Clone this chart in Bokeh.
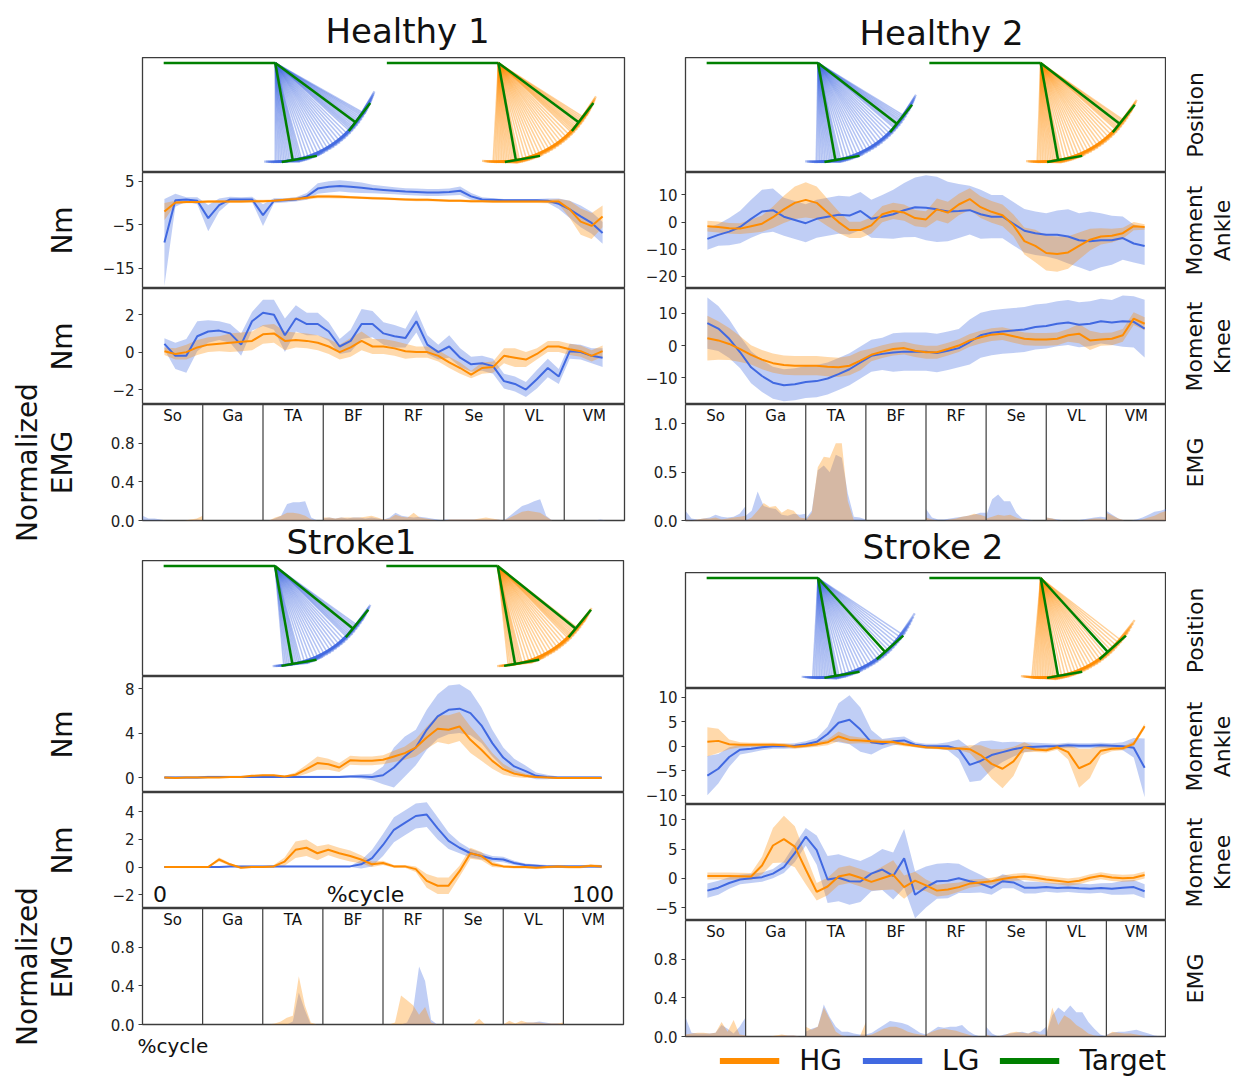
import math
from bokeh.plotting import figure
from bokeh.layouts import column, row
from bokeh.models import LinearAxis, FixedTicker, Legend, LegendItem, Range1d, Title
from bokeh.core.properties import value
from bokeh.embed import file_html
from bokeh.resources import INLINE

FONT = "DejaVu Sans"
HG_C = "#ff8c00"
LG_C = "#4169e1"
TG_C = "#008000"
EDGE = "#3c3c3c"
TXT = "#111111"

# ---------------- data ----------------
pct = [i * 2.5 for i in range(41)]          # %cycle grid of the moment curves
emg_pct = [i * 10 for i in range(11)]       # %cycle grid of the EMG envelopes
muscles = ["So", "Ga", "TA", "BF", "RF", "Se", "VL", "VM"]
groups = ["HG", "LG", "Target"]
panel_titles = ["Healthy 1", "Healthy 2", "Stroke1", "Stroke 2"]

# Healthy 1 ---------------------------------------------------------------
h1_ank_lg = [-9.1, 0.6, 0.8, 0.5, -3.5, -0.5, 0.8, 0.8, 0.8, -2.8,
             0.5, 0.6, 0.8, 1.5, 3.3, 3.7, 3.9, 3.7, 3.5, 3.2,
             3.0, 2.8, 2.6, 2.5, 2.4, 2.4, 2.5, 2.8, 1.5, 0.8,
             0.7, 0.6, 0.6, 0.6, 0.6, 0.5, -0.2, -1.5, -3.1, -4.6, -6.9]
h1_ank_lg_sd = [10, 1.5, 0.5, 0.8, 3.0, 1.5, 0.6, 0.5, 0.6, 2.5,
                0.6, 0.5, 0.5, 0.8, 1.2, 1.3, 1.3, 1.3, 1.2, 1.0,
                0.9, 0.8, 0.8, 0.8, 0.8, 0.8, 0.8, 1.0, 0.8, 0.5,
                0.4, 0.3, 0.3, 0.3, 0.3, 0.5, 1.2, 2.0, 2.5, 2.5, 2.5]
h1_ank_hg = [-2.0, 0.1, 0.2, 0.2, 0.3, 0.3, 0.3, 0.3, 0.4, 0.4,
             0.5, 0.7, 0.9, 1.2, 1.5, 1.5, 1.4, 1.3, 1.2, 1.1,
             1.0, 0.9, 0.8, 0.7, 0.7, 0.6, 0.5, 0.5, 0.4, 0.4,
             0.3, 0.3, 0.3, 0.3, 0.3, 0.3, 0.3, -1.5, -4.3, -5.3, -3.1]
h1_ank_hg_sd = [2.0, 0.4, 0.3, 0.3, 0.3, 0.3, 0.3, 0.3, 0.3, 0.3,
                0.3, 0.3, 0.4, 0.4, 0.4, 0.4, 0.4, 0.3, 0.3, 0.3,
                0.3, 0.3, 0.3, 0.3, 0.3, 0.3, 0.3, 0.3, 0.3, 0.3,
                0.3, 0.3, 0.3, 0.3, 0.3, 0.4, 0.6, 2.0, 3.0, 3.0, 2.5]
h1_knee_lg = [0.44, -0.2, -0.2, 0.85, 1.1, 1.15, 1.0, 0.4, 1.65, 2.1,
              2.0, 0.9, 1.8, 1.5, 1.5, 1.1, 0.3, 0.6, 1.5, 1.5,
              1.0, 0.85, 0.75, 1.65, 0.4, 0.0, 0.3, -0.3, -0.65, -0.6,
              -0.75, -1.55, -1.7, -2.0, -1.45, -0.85, -1.3, 0.05, 0.0, -0.2, -0.3]
h1_knee_lg_sd = [0.3, 0.7, 0.9, 0.8, 0.6, 0.5, 0.5, 0.6, 0.5, 0.7,
                 0.8, 0.9, 0.7, 0.6, 0.6, 0.5, 0.4, 0.6, 0.8, 0.7,
                 0.6, 0.6, 0.5, 0.6, 0.5, 0.4, 0.6, 0.5, 0.4, 0.4,
                 0.4, 0.4, 0.4, 0.4, 0.5, 0.5, 0.4, 0.4, 0.4, 0.4, 0.5]
h1_knee_hg = [0.05, -0.1, 0.0, 0.25, 0.4, 0.45, 0.5, 0.55, 0.6, 0.95,
              1.0, 0.6, 0.65, 0.6, 0.5, 0.3, 0.0, 0.25, 0.6, 0.3,
              0.3, 0.2, 0.05, 0.0, 0.0, -0.2, -0.55, -0.85, -1.2, -0.85,
              -0.8, -0.2, -0.3, -0.4, -0.1, 0.3, 0.3, 0.15, 0.05, -0.2, 0.05]
h1_knee_hg_sd = [0.2, 0.3, 0.4, 0.4, 0.4, 0.4, 0.5, 0.5, 0.5, 0.5,
                 0.5, 0.5, 0.4, 0.4, 0.4, 0.4, 0.4, 0.5, 0.5, 0.4,
                 0.4, 0.4, 0.4, 0.3, 0.3, 0.3, 0.3, 0.3, 0.2, 0.3,
                 0.3, 0.4, 0.5, 0.4, 0.3, 0.3, 0.3, 0.3, 0.3, 0.3, 0.3]

# Healthy 2 ---------------------------------------------------------------
h2_ank_lg = [-6.2, -4.7, -3.5, -1.8, 1.2, 3.9, 4.4, 2.0, 0.8, -0.4,
             1.2, 2.0, 2.7, 2.4, 4.1, 1.2, 2.0, 2.9, 4.4, 5.5,
             5.3, 4.7, 3.9, 4.1, 4.4, 2.9, 2.0, 2.0, -0.6, -3.2,
             -4.1, -4.7, -4.7, -5.3, -6.7, -7.1, -6.7, -6.7, -5.9, -7.9, -8.8]
h2_ank_lg_sd = [4, 4, 5, 6, 7, 8, 8, 7, 7, 7,
                7, 7, 7, 7, 7, 7, 8, 9, 10, 11,
                12, 12, 11, 10, 9, 9, 8, 8, 8, 8,
                8, 8, 9, 10, 10, 11, 10, 9, 8, 7, 7]
h2_ank_hg = [-1.5, -1.8, -2.3, -2.4, -1.5, -0.6, 1.8, 4.7, 7.1, 8.2,
             7.1, 3.5, 0.0, -2.9, -2.9, -1.2, 2.9, 4.1, 3.5, 1.5,
             1.0, 4.7, 3.5, 6.5, 8.5, 5.5, 3.8, 2.5, -1.2, -7.0,
             -8.8, -11.4, -11.8, -11.2, -8.8, -6.5, -5.3, -5.0, -4.1, -1.5, -1.8]
h2_ank_hg_sd = [2, 2, 2, 2, 2.5, 3, 4, 5, 6, 6.5,
                6, 5, 4, 3, 3, 3, 3, 3, 3, 3,
                3, 4, 4, 4, 4, 4, 4, 4, 4, 5,
                6, 6.5, 6.5, 6, 5, 4, 3, 2.5, 2, 1.5, 1]
h2_knee_lg = [7.0, 5.3, 2.1, -2.1, -6.8, -9.5, -11.6, -12.4, -12.1, -11.4,
              -11.1, -10.3, -8.9, -7.4, -5.3, -3.2, -2.6, -2.2, -1.9, -1.9,
              -1.9, -2.3, -1.6, -0.8, 1.1, 3.2, 4.0, 4.4, 4.7, 5.0,
              5.8, 6.1, 6.8, 7.2, 6.5, 6.8, 7.6, 7.2, 7.6, 7.4, 5.3]
h2_knee_lg_sd = [8, 7, 6, 5, 5, 5, 5, 5, 5, 5,
                 5, 5, 5, 5, 5, 5, 5, 6, 6, 6,
                 6, 6, 6, 6, 7, 7, 7, 7, 7, 7,
                 7, 7, 7, 7, 7, 7, 7, 7, 8, 8, 9]
h2_knee_hg = [2.3, 1.6, 0.5, -1.1, -2.9, -4.4, -5.5, -6.1, -6.3, -6.3,
              -6.3, -6.6, -6.8, -6.3, -4.7, -2.9, -1.9, -1.1, -0.8, -1.6,
              -2.1, -2.1, -1.1, 0.0, 1.6, 2.6, 3.4, 3.7, 2.9, 2.1,
              1.9, 1.9, 2.1, 3.2, 3.7, 1.6, 1.9, 2.1, 3.2, 8.4, 6.8]
h2_knee_hg_sd = [7, 6, 5, 4, 3, 3, 3, 3, 3, 3,
                 3, 3, 3, 3, 3, 2, 2, 2, 2, 2,
                 2, 2, 2, 2, 2, 2, 2, 2, 2, 2,
                 2, 2, 2, 2, 3, 3, 2, 2, 2, 2, 2]

# Stroke 1 ----------------------------------------------------------------
s1_ank_lg = [0.0, 0.0, 0.0, 0.0, 0.05, 0.05, 0.05, 0.05, 0.05, 0.05,
             0.05, 0.05, 0.05, 0.05, 0.05, 0.05, 0.05, 0.1, 0.1, 0.05,
             0.2, 0.9, 1.9, 2.7, 4.3, 5.5, 6.1, 6.2, 5.8, 4.7,
             3.1, 1.8, 1.0, 0.6, 0.15, 0.05, 0.0, 0.0, 0.0, 0.0, 0.0]
s1_ank_lg_sd = [0.1, 0.1, 0.1, 0.1, 0.1, 0.1, 0.1, 0.1, 0.1, 0.1,
                0.1, 0.1, 0.1, 0.1, 0.1, 0.1, 0.1, 0.1, 0.2, 0.3,
                0.8, 1.8, 1.8, 1.6, 1.8, 2.0, 2.2, 2.2, 2.0, 1.6,
                1.2, 0.9, 0.7, 0.5, 0.3, 0.2, 0.1, 0.1, 0.1, 0.1, 0.1]
s1_ank_hg = [0.0, -0.05, 0.0, 0.0, 0.0, 0.0, 0.05, 0.05, 0.15, 0.2,
             0.2, 0.1, 0.25, 0.75, 1.3, 1.2, 0.9, 1.55, 1.5, 1.5,
             1.6, 1.9, 2.2, 2.7, 3.6, 4.4, 4.3, 4.6, 3.4, 2.5,
             1.5, 0.75, 0.35, 0.15, 0.05, 0.0, -0.05, -0.05, -0.05, -0.05, -0.05]
s1_ank_hg_sd = [0.05, 0.05, 0.05, 0.05, 0.05, 0.05, 0.05, 0.05, 0.05, 0.05,
                0.05, 0.05, 0.2, 0.4, 0.6, 0.5, 0.4, 0.4, 0.4, 0.4,
                0.4, 0.5, 0.6, 0.8, 1.0, 1.2, 1.3, 1.3, 1.2, 1.0,
                0.7, 0.5, 0.3, 0.2, 0.1, 0.05, 0.05, 0.05, 0.05, 0.05, 0.05]
s1_knee_lg = [0.0, 0.0, 0.0, 0.0, 0.0, 0.0, 0.05, 0.05, 0.05, 0.05,
              0.05, 0.05, 0.05, 0.05, 0.05, 0.05, 0.05, 0.05, 0.2, 0.65,
              1.6, 2.7, 3.2, 3.7, 3.8, 2.8, 1.9, 1.4, 1.0, 0.8,
              0.6, 0.55, 0.3, 0.15, 0.1, 0.05, 0.05, 0.05, 0.05, 0.05, 0.05]
s1_knee_lg_sd = [0.05, 0.05, 0.05, 0.05, 0.05, 0.05, 0.05, 0.05, 0.05, 0.05,
                 0.05, 0.05, 0.05, 0.05, 0.05, 0.05, 0.05, 0.05, 0.3, 0.6,
                 0.8, 0.9, 0.9, 0.9, 0.9, 0.8, 0.6, 0.4, 0.3, 0.25,
                 0.2, 0.2, 0.15, 0.1, 0.1, 0.1, 0.1, 0.1, 0.1, 0.1, 0.1]
s1_knee_hg = [0.0, 0.0, 0.0, 0.0, 0.0, 0.55, 0.2, -0.05, 0.0, 0.0,
              0.05, 0.4, 1.25, 1.4, 1.0, 1.25, 1.0, 0.8, 0.55, 0.2,
              0.3, 0.05, 0.05, -0.15, -1.0, -1.35, -1.35, -0.3, 1.0, 0.8,
              0.2, 0.05, 0.0, 0.0, -0.05, 0.0, 0.05, 0.0, 0.0, 0.1, 0.05]
s1_knee_hg_sd = [0.05, 0.05, 0.05, 0.05, 0.05, 0.15, 0.1, 0.05, 0.05, 0.05,
                 0.1, 0.3, 0.6, 0.6, 0.5, 0.4, 0.4, 0.4, 0.3, 0.2,
                 0.15, 0.1, 0.1, 0.2, 0.5, 0.6, 0.6, 0.4, 0.4, 0.3,
                 0.2, 0.1, 0.1, 0.1, 0.1, 0.1, 0.1, 0.1, 0.1, 0.1, 0.1]

# Stroke 2 ----------------------------------------------------------------
s2_ank_lg = [-6.0, -4.6, -2.2, -0.7, -0.5, -0.2, 0.0, 0.0, 0.1, 0.4,
             0.9, 2.5, 4.8, 5.4, 3.4, 0.8, 0.5, 1.0, 1.2, 0.3,
             0.0, 0.0, 0.0, -0.6, -3.8, -3.0, -1.8, -1.2, -0.6, -0.2,
             -0.1, 0.0, 0.0, 0.2, 0.1, 0.1, 0.2, 0.1, 0.0, -0.3, -4.4]
s2_ank_lg_sd = [4, 3, 2, 1, 0.8, 0.6, 0.5, 0.5, 0.5, 0.6,
                0.8, 1.5, 4, 5, 4.5, 2.5, 1, 0.8, 0.8, 0.5,
                0.5, 0.5, 0.8, 2, 3.5, 4, 3, 2, 1.5, 1,
                0.8, 0.6, 0.5, 0.5, 0.5, 0.5, 0.5, 0.5, 0.8, 2, 6]
s2_ank_hg = [0.9, 1.1, 0.4, 0.3, 0.3, 0.3, 0.3, 0.2, -0.1, 0.1,
             0.4, 0.8, 2.0, 1.3, 1.2, 1.0, 0.85, 0.85, 0.4, 0.1,
             -0.2, -0.3, -0.45, -0.45, -0.6, -1.8, -3.6, -4.6, -3.1, -0.2,
             -0.65, -0.8, -0.2, -1.2, -4.5, -3.5, -0.9, -0.5, -0.4, 0.5, 4.1]
s2_ank_hg_sd = [3, 2.5, 1, 0.5, 0.4, 0.4, 0.4, 0.4, 0.4, 0.4,
                0.5, 0.6, 1.0, 0.8, 0.6, 0.5, 0.5, 0.5, 0.4, 0.3,
                0.3, 0.3, 0.3, 0.3, 0.8, 2, 3, 4, 3, 1,
                0.5, 0.5, 0.5, 1.5, 4, 3, 1, 0.5, 0.4, 0.5, 0.5]
s2_knee_lg = [-2.1, -1.6, -0.8, -0.2, 0.0, 0.2, 0.8, 1.9, 4.3, 7.1,
              4.8, -0.2, 0.1, -0.5, -0.55, 0.8, 1.5, 0.4, 3.4, -2.8,
              -1.5, -0.5, -0.4, 0.0, -0.5, -0.9, -1.6, -0.5, -0.7, -1.6,
              -1.6, -1.5, -1.65, -1.55, -1.7, -1.8, -1.65, -1.8, -1.6, -1.5, -2.2]
s2_knee_lg_sd = [1.2, 1.2, 1.0, 0.8, 0.8, 0.8, 0.8, 1.0, 1.5, 1.5,
                 2.5, 4, 4, 4, 3.5, 3, 3.5, 4, 5, 4,
                 3.5, 3, 3, 2.5, 2, 1.5, 1.2, 1.2, 1.0, 1.0,
                 1.0, 0.8, 0.8, 0.8, 0.8, 0.8, 0.8, 1.0, 1.2, 1.2, 1.2]
s2_knee_hg = [0.4, 0.4, 0.4, 0.35, 0.3, 2.2, 5.6, 6.7, 5.4, 1.5,
              -2.3, -1.4, 0.3, 0.7, 0.1, -0.6, 0.0, 0.6, -1.5, -0.4,
              -1.2, -2.1, -1.9, -1.5, -0.9, -0.7, -0.5, -0.1, 0.2, 0.3,
              0.1, -0.2, -0.4, -0.65, -0.4, 0.1, 0.45, 0.15, 0.0, 0.1, 0.55]
s2_knee_hg_sd = [0.6, 0.6, 0.6, 0.6, 0.6, 1.5, 3, 4, 3.5, 2.5,
                 1.5, 1.5, 1.5, 1.5, 1.5, 1.5, 2, 2.5, 2, 1.5,
                 1, 1, 1, 0.8, 0.7, 0.6, 0.6, 0.6, 0.6, 0.6,
                 0.6, 0.6, 0.6, 0.6, 0.6, 0.6, 0.6, 0.6, 0.6, 0.6, 0.6]

# EMG envelopes (one list per muscle, order = muscles) ---------------------
emg_h1_lg = [[0.05, 0.02, 0.02, 0.01, 0.0, 0.0, 0.0, 0.0, 0.0, 0.01, 0.0],
             [0.0, 0.0, 0.0, 0.0, 0.0, 0.0, 0.0, 0.0, 0.0, 0.0, 0.0],
             [0.0, 0.0, 0.02, 0.05, 0.17, 0.19, 0.19, 0.2, 0.03, 0.0, 0.0],
             [0.02, 0.03, 0.02, 0.03, 0.02, 0.03, 0.03, 0.02, 0.03, 0.02, 0.01],
             [0.01, 0.03, 0.08, 0.05, 0.04, 0.03, 0.04, 0.03, 0.02, 0.01, 0.0],
             [0.01, 0.01, 0.01, 0.01, 0.01, 0.01, 0.01, 0.01, 0.01, 0.01, 0.0],
             [0.0, 0.05, 0.1, 0.15, 0.17, 0.2, 0.22, 0.05, 0.0, 0.0, 0.0],
             [0.0, 0.0, 0.0, 0.0, 0.0, 0.0, 0.01, 0.0, 0.0, 0.0, 0.0]]
emg_h1_hg = [[0.0, 0.0, 0.0, 0.0, 0.0, 0.0, 0.0, 0.0, 0.01, 0.02, 0.05],
             [0.0, 0.0, 0.0, 0.0, 0.0, 0.0, 0.0, 0.0, 0.0, 0.0, 0.0],
             [0.0, 0.0, 0.03, 0.05, 0.08, 0.08, 0.07, 0.05, 0.01, 0.0, 0.0],
             [0.03, 0.03, 0.02, 0.03, 0.03, 0.03, 0.03, 0.04, 0.05, 0.03, 0.01],
             [0.01, 0.02, 0.06, 0.04, 0.03, 0.08, 0.03, 0.02, 0.01, 0.0, 0.0],
             [0.0, 0.01, 0.01, 0.01, 0.01, 0.01, 0.02, 0.03, 0.02, 0.01, 0.0],
             [0.0, 0.03, 0.06, 0.09, 0.1, 0.09, 0.08, 0.04, 0.0, 0.0, 0.0],
             [0.0, 0.0, 0.0, 0.0, 0.0, 0.0, 0.0, 0.0, 0.0, 0.0, 0.0]]
emg_h2_lg = [[0.1, 0.02, 0.01, 0.02, 0.03, 0.06, 0.04, 0.03, 0.04, 0.07, 0.15],
             [0.05, 0.1, 0.3, 0.15, 0.13, 0.12, 0.06, 0.05, 0.07, 0.06, 0.07],
             [0.02, 0.1, 0.52, 0.57, 0.5, 0.68, 0.65, 0.28, 0.04, 0.03, 0.01],
             [0.0, 0.0, 0.0, 0.0, 0.0, 0.0, 0.0, 0.0, 0.0, 0.0, 0.0],
             [0.12, 0.03, 0.01, 0.01, 0.02, 0.03, 0.04, 0.05, 0.06, 0.08, 0.08],
             [0.05, 0.22, 0.27, 0.2, 0.2, 0.08, 0.02, 0.01, 0.0, 0.0, 0.0],
             [0.03, 0.02, 0.01, 0.0, 0.0, 0.0, 0.01, 0.02, 0.03, 0.04, 0.03],
             [0.1, 0.06, 0.02, 0.0, 0.0, 0.01, 0.03, 0.06, 0.09, 0.1, 0.12]]
emg_h2_hg = [[0.01, 0.0, 0.01, 0.02, 0.02, 0.03, 0.01, 0.02, 0.03, 0.04, 0.05],
             [0.0, 0.03, 0.1, 0.18, 0.14, 0.15, 0.08, 0.12, 0.1, 0.03, 0.02],
             [0.0, 0.08, 0.55, 0.66, 0.65, 0.8, 0.8, 0.2, 0.0, 0.0, 0.0],
             [0.0, 0.0, 0.0, 0.0, 0.0, 0.0, 0.0, 0.0, 0.0, 0.0, 0.0],
             [0.03, 0.01, 0.0, 0.0, 0.01, 0.02, 0.04, 0.05, 0.07, 0.06, 0.04],
             [0.02, 0.04, 0.06, 0.05, 0.06, 0.03, 0.01, 0.0, 0.0, 0.0, 0.0],
             [0.03, 0.02, 0.0, 0.0, 0.0, 0.0, 0.0, 0.01, 0.02, 0.02, 0.01],
             [0.08, 0.05, 0.02, 0.0, 0.0, 0.0, 0.01, 0.03, 0.05, 0.08, 0.1]]
emg_s1_lg = [[0.0] * 11,
             [0.0] * 11,
             [0.0, 0.0, 0.0, 0.0, 0.0, 0.03, 0.33, 0.15, 0.0, 0.0, 0.0],
             [0.0] * 11,
             [0.0, 0.0, 0.0, 0.0, 0.02, 0.15, 0.6, 0.45, 0.05, 0.0, 0.0],
             [0.0] * 11,
             [0.0, 0.01, 0.0, 0.01, 0.02, 0.02, 0.03, 0.02, 0.01, 0.01, 0.0],
             [0.0] * 11]
emg_s1_hg = [[0.0] * 11,
             [0.0] * 11,
             [0.0, 0.0, 0.01, 0.03, 0.07, 0.09, 0.5, 0.2, 0.02, 0.0, 0.0],
             [0.0] * 11,
             [0.0, 0.0, 0.02, 0.3, 0.25, 0.2, 0.1, 0.18, 0.02, 0.0, 0.0],
             [0.0, 0.0, 0.0, 0.0, 0.0, 0.0, 0.06, 0.0, 0.0, 0.0, 0.0],
             [0.0, 0.04, 0.01, 0.04, 0.02, 0.02, 0.02, 0.01, 0.01, 0.01, 0.02],
             [0.0] * 11]
emg_s2_lg = [[0.2, 0.04, 0.03, 0.03, 0.03, 0.04, 0.12, 0.08, 0.03, 0.1, 0.2],
             [0.0, 0.0, 0.0, 0.0, 0.0, 0.0, 0.01, 0.01, 0.01, 0.0, 0.0],
             [0.05, 0.08, 0.1, 0.33, 0.2, 0.1, 0.05, 0.05, 0.03, 0.02, 0.02],
             [0.02, 0.04, 0.08, 0.12, 0.16, 0.15, 0.14, 0.12, 0.08, 0.04, 0.02],
             [0.02, 0.06, 0.1, 0.09, 0.1, 0.1, 0.12, 0.06, 0.02, 0.0, 0.0],
             [0.1, 0.03, 0.0, 0.02, 0.03, 0.04, 0.05, 0.03, 0.06, 0.05, 0.1],
             [0.02, 0.22, 0.3, 0.25, 0.32, 0.25, 0.25, 0.15, 0.08, 0.02, 0.0],
             [0.02, 0.04, 0.05, 0.05, 0.06, 0.07, 0.05, 0.03, 0.01, 0.0, 0.0]]
emg_s2_hg = [[0.02, 0.03, 0.04, 0.04, 0.03, 0.04, 0.15, 0.05, 0.17, 0.02, 0.01],
             [0.0, 0.0, 0.0, 0.0, 0.0, 0.01, 0.02, 0.01, 0.01, 0.0, 0.0],
             [0.1, 0.07, 0.1, 0.3, 0.18, 0.05, 0.01, 0.0, 0.0, 0.0, 0.15],
             [0.01, 0.02, 0.05, 0.08, 0.1, 0.1, 0.08, 0.05, 0.03, 0.02, 0.01],
             [0.02, 0.05, 0.07, 0.08, 0.07, 0.06, 0.04, 0.02, 0.0, 0.0, 0.0],
             [0.02, 0.0, 0.0, 0.01, 0.04, 0.05, 0.04, 0.03, 0.05, 0.02, 0.02],
             [0.02, 0.3, 0.12, 0.22, 0.18, 0.12, 0.08, 0.03, 0.01, 0.0, 0.0],
             [0.01, 0.05, 0.04, 0.03, 0.03, 0.02, 0.01, 0.0, 0.0, 0.0, 0.0]]

# Shank angles (deg from vertical) of the recorded positions, and targets --
pos_h1_lg = [0, 1, 2, 3, 4, 5, 6, 7, 8, 9, 10, 11, 12, 13, 14, 15, 17, 19, 21, 23, 25, 27, 29,
             31, 33, 35, 37, 39, 41, 43, 45, 47, 48, 49, 50, 51, 52, 53, 54, 55, 56, 57, 58, 59, 60]
pos_h1_hg = [-3, -2, -1, 0, 1, 2, 3, 4, 5, 6, 7, 8, 9, 10, 11, 12, 14, 16, 18, 20, 22, 24, 26,
             28, 30, 32, 34, 36, 38, 40, 42, 44, 46, 47, 48, 49, 50, 51, 52, 53, 54, 55, 56, 57]
pos_h2_lg = [-1, 0, 1, 2, 3, 4, 5, 6, 7, 8, 9, 10, 11, 12, 13, 15, 17, 19, 21, 23, 25, 27, 29,
             31, 33, 35, 37, 39, 41, 43, 45, 47, 49, 50, 51, 52, 53, 54, 55, 56, 57, 58]
pos_h2_hg = [-2, -1, 0, 1, 2, 3, 4, 5, 6, 7, 8, 9, 10, 11, 12, 14, 16, 18, 20, 22, 24, 26, 28,
             30, 32, 34, 36, 38, 40, 42, 44, 46, 48, 49, 50, 51, 52, 53, 54, 55]
pos_s1_lg = [5, 6, 7, 8, 9, 10, 11, 12, 13, 14, 15, 17, 19, 21, 23, 25, 27, 29, 31, 33, 35, 37,
             39, 41, 43, 45, 46, 47, 48, 49, 50, 51, 52, 53, 54]
pos_s1_hg = [6, 7, 8, 9, 10, 11, 12, 13, 14, 16, 18, 20, 22, 24, 26, 28, 30, 32, 34, 36, 38, 40,
             42, 44, 45, 46, 47, 48, 49, 50, 51, 52]
pos_s2_lg = [-3, -2, -1, 0, 1, 2, 3, 4, 5, 6, 7, 8, 9, 10, 11, 12, 14, 16, 18, 20, 22, 24, 26,
             28, 30, 32, 34, 36, 38, 40, 42, 44, 46, 48, 50, 52, 54, 56]
pos_s2_hg = [-5, -4, -3, -2, -1, 0, 1, 2, 3, 4, 5, 6, 7, 8, 9, 10, 12, 14, 16, 18, 20, 22, 24,
             26, 28, 30, 32, 34, 36, 38, 40, 42, 44, 46, 48, 50, 52]
target_h1 = [10, 53]
target_h2 = [10, 52]
target_s1 = [10, 51]
target_s2 = [10, 42]

# leg model (thigh = 1 unit)
THIGH, SHANK, HEEL, TOE, HG_SHIFT = 1.0, 0.9, 0.1, 0.22, 2.0


# ---------------- helpers ----------------
def new_fig(fw, fh, xr, yr, ml, mr, mt, mb):
    p = figure(frame_width=fw, frame_height=fh, x_range=xr, y_range=yr,
               min_border_left=ml, min_border_right=mr, min_border_top=mt, min_border_bottom=mb,
               toolbar_location=None, output_backend="svg",
               x_axis_location=None, y_axis_location=None, title=None)
    p.grid.visible = False
    p.outline_line_color = EDGE
    p.outline_line_width = 1.3
    p.background_fill_color = "white"
    p.border_fill_color = "white"
    try:
        p.align = "start"
    except Exception:
        pass
    return p


def fmt(t, dec):
    s = f"{t:.1f}" if dec else f"{int(t)}"
    return s.replace("-", "\u2212")


def label_axis(p, side, text, standoff, size):
    ax = LinearAxis(ticker=FixedTicker(ticks=[]), axis_label=text)
    ax.major_tick_out = 0
    ax.major_tick_in = 0
    ax.minor_tick_out = 0
    ax.major_label_standoff = 0
    ax.major_tick_line_color = None
    ax.minor_tick_line_color = None
    ax.axis_line_color = None
    ax.axis_label_text_font = FONT
    ax.axis_label_text_font_size = size
    ax.axis_label_text_font_style = "normal"
    ax.axis_label_text_color = TXT
    ax.axis_label_standoff = standoff
    p.add_layout(ax, side)


def left_axis(p, ticks, dec=False):
    overrides = {}
    for t in ticks:
        overrides[t] = fmt(t, dec)
        overrides[str(t)] = fmt(t, dec)
    ax = LinearAxis(ticker=FixedTicker(ticks=ticks), major_label_overrides=overrides)
    ax.major_label_text_font = FONT
    ax.major_label_text_font_size = "15px"
    ax.major_label_text_color = "#222222"
    ax.major_label_standoff = 4
    ax.major_tick_out = 4
    ax.major_tick_in = 0
    ax.major_tick_line_color = EDGE
    ax.minor_tick_line_color = None
    ax.axis_line_color = None
    p.add_layout(ax, "left")


def side_label_fig(lines, standoffs, fh):
    # narrow strip right of a panel; its left axes carry the row label(s)
    p = new_fig(1, fh, Range1d(0, 1), Range1d(0, 1), 68, 0, 0, 0)
    p.outline_line_color = None
    for text, so in zip(lines, standoffs):
        label_axis(p, "left", text, so, "22px")
    return p


def title_fig(text, fw, h, ml, mr, cx, cy):
    p = new_fig(fw, h, Range1d(0, fw), Range1d(0, h), ml, mr, 0, 0)
    p.outline_line_color = None
    p.text(x=[cx], y=[cy], text=[text], text_font=value(FONT), text_font_size="34px",
           text_align="center", text_baseline="middle", text_color=TXT)
    return p


def title_below(p, text, offset, standoff):
    t = Title(text=text, align="left", offset=offset, standoff=0,
              text_font=FONT, text_font_size="34px", text_font_style="normal", text_color=TXT)
    try:
        t.standoff = standoff
    except Exception:
        t.standoff = max(standoff, 0)
    p.add_layout(t, "below")


def leg_lines(hip_x, angles):
    kx = hip_x + THIGH
    sx, sy, fx, fy = [], [], [], []
    for a in angles:
        r = math.radians(a)
        axx, ayy = kx + SHANK * math.sin(r), -SHANK * math.cos(r)
        sx.append([kx, axx]); sy.append([0.0, ayy])
        fx.append([axx - HEEL * math.cos(r), axx + TOE * math.cos(r)])
        fy.append([ayy - HEEL * math.sin(r), ayy + TOE * math.sin(r)])
    return sx, sy, fx, fy


def pos_fig(lg, hg, targets, fw, fh, ml, mr):
    p = new_fig(fw, fh, Range1d(-0.19, 4.13), Range1d(-1.0, 0.05), ml, mr, 0, 0)
    for hip, angs, col in ((0.0, lg, LG_C), (HG_SHIFT, hg, HG_C)):
        sx, sy, fx, fy = leg_lines(hip, angs)
        p.multi_line(sx, sy, line_color=col, line_alpha=0.4, line_width=1.5)
        p.multi_line(fx, fy, line_color=col, line_alpha=0.4, line_width=2.2)
    for hip in (0.0, HG_SHIFT):
        p.line([hip, hip + THIGH], [0.0, 0.0], line_color=TG_C, line_width=2.5)
        sx, sy, fx, fy = leg_lines(hip, targets)
        p.multi_line(sx, sy, line_color=TG_C, line_width=2.5)
        p.multi_line(fx, fy, line_color=TG_C, line_width=2.5)
    return p


def moment_fig(yr, fw, ml, mr, lg, lg_sd, hg, hg_sd):
    p = new_fig(fw, 116, Range1d(-5, 105), Range1d(*yr), ml, mr, 0, 0)
    for m, s, c in ((lg, lg_sd, LG_C), (hg, hg_sd, HG_C)):
        p.varea(x=pct, y1=[a - b for a, b in zip(m, s)], y2=[a + b for a, b in zip(m, s)],
                fill_color=c, fill_alpha=0.33)
    for m, c in ((lg, LG_C), (hg, HG_C)):
        p.line(pct, m, line_color=c, line_width=2)
    return p


def emg_fig(fw, ml, mr, mb, lg, hg):
    n = len(muscles)
    p = new_fig(fw, 116, Range1d(0, 100 * n), Range1d(0, 1.2), ml, mr, 0, mb)
    for i in range(n):
        xs = [i * 100 + v for v in emg_pct]
        p.varea(x=xs, y1=[0.0] * len(xs), y2=lg[i], fill_color=LG_C, fill_alpha=0.33)
        p.varea(x=xs, y1=[0.0] * len(xs), y2=hg[i], fill_color=HG_C, fill_alpha=0.33)
    bounds = [100 * i for i in range(1, n)]
    p.segment(x0=bounds, y0=[0] * len(bounds), x1=bounds, y1=[1.2] * len(bounds),
              line_color=EDGE, line_width=1.2)
    p.text(x=[100 * i + 50 for i in range(n)], y=[1.085] * n, text=muscles,
           text_font=value(FONT), text_font_size="15px", text_align="center",
           text_baseline="middle", text_color=TXT)
    return p


# ---------------- left column (Healthy 1 / Stroke1) ----------------
STRIP = 80
LW, LML, LMR = 482, 62, 16
h1_title = title_fig(panel_titles[0], LW, 57, LML, LMR, 265, 26.5)
h1_pos = pos_fig(pos_h1_lg, pos_h1_hg, target_h1, LW, 115, LML, LMR)
h1_ank = moment_fig((-19.7, 7.0), LW, LML, LMR, h1_ank_lg, h1_ank_lg_sd, h1_ank_hg, h1_ank_hg_sd)
left_axis(h1_ank, [-15, -5, 5])
h1_knee = moment_fig((-2.8, 3.4), LW, LML, LMR, h1_knee_lg, h1_knee_lg_sd, h1_knee_hg, h1_knee_hg_sd)
left_axis(h1_knee, [-2, 0, 2])
h1_emg = emg_fig(LW, LML, LMR, 40, emg_h1_lg, emg_h1_hg)
left_axis(h1_emg, [0, 0.4, 0.8], dec=True)
title_below(h1_emg, panel_titles[2], 144, -2)     # "Stroke1" heads the lower-left block

SW, SML, SMR = 481, 58, 21
s1_pos = pos_fig(pos_s1_lg, pos_s1_hg, target_s1, SW, 116, SML, SMR)
s1_ank = moment_fig((-1.35, 9.1), SW, SML, SMR, s1_ank_lg, s1_ank_lg_sd, s1_ank_hg, s1_ank_hg_sd)
left_axis(s1_ank, [0, 4, 8])
s1_knee = moment_fig((-3.0, 5.4), SW, SML, SMR, s1_knee_lg, s1_knee_lg_sd, s1_knee_hg, s1_knee_hg_sd)
left_axis(s1_knee, [-2, 0, 2, 4])
s1_knee.text(x=[pct[0] - 1, (pct[0] + pct[-1]) / 2 - 4, pct[-1] - 2], y=[-1.95] * 3,
             text=["0", "%cycle", "100"], text_font=value(FONT), text_font_size="22px",
             text_align="center", text_baseline="middle", text_color=TXT)
s1_emg = emg_fig(SW, SML, SMR, 40, emg_s1_lg, emg_s1_hg)
left_axis(s1_emg, [0, 0.4, 0.8], dec=True)
s1_emg.add_layout(Title(text="%cycle", align="left", offset=-5, standoff=14,
                        text_font=FONT, text_font_size="20px", text_font_style="normal",
                        text_color=TXT), "below")

left_figs = [h1_title, h1_pos, h1_ank, h1_knee, h1_emg, s1_pos, s1_ank, s1_knee, s1_emg]
LEFT_H = 57 + 115 + 116 * 3 + 40 + 116 * 4 + 40

# label strip left of the left column: y-axis titles, rotated
strip = new_fig(STRIP, LEFT_H, Range1d(0, STRIP), Range1d(0, LEFT_H), 0, 0, 0, 0)
strip.outline_line_color = None
row_mid = [230, 346, 462, 734, 850, 966]          # vertical centres of the labelled rows
strip_txt = ["Nm", "Nm", "EMG", "Nm", "Nm", "EMG"]
strip.text(x=[62] * len(row_mid), y=[LEFT_H - v for v in row_mid], text=strip_txt,
           angle=math.pi / 2, text_font=value(FONT), text_font_size="28px",
           text_align="center", text_baseline="middle", text_color=TXT)
strip.text(x=[27, 27], y=[LEFT_H - row_mid[2], LEFT_H - row_mid[5]], text=["Normalized", "Normalized"],
           angle=math.pi / 2, text_font=value(FONT), text_font_size="28px",
           text_align="center", text_baseline="middle", text_color=TXT)

# ---------------- right column (Healthy 2 / Stroke 2) ----------------
RW, RML = 481, 45
FULL_R = 69
h2_title = title_fig(panel_titles[1], RW, 57, RML, FULL_R, 256, 25)
h2_pos = pos_fig(pos_h2_lg, pos_h2_hg, target_h2, RW, 115, RML, 0)
h2_ank = moment_fig((-24.5, 18.3), RW, RML, 0, h2_ank_lg, h2_ank_lg_sd, h2_ank_hg, h2_ank_hg_sd)
left_axis(h2_ank, [-20, -10, 0, 10])
h2_knee = moment_fig((-18.4, 17.8), RW, RML, 0, h2_knee_lg, h2_knee_lg_sd, h2_knee_hg, h2_knee_hg_sd)
left_axis(h2_knee, [-10, 0, 10])
h2_emg = emg_fig(RW, RML, 0, 52, emg_h2_lg, emg_h2_hg)
left_axis(h2_emg, [0, 0.5, 1.0], dec=True)
title_below(h2_emg, panel_titles[3], 177, 9)      # "Stroke 2" heads the lower-right block

s2_pos = pos_fig(pos_s2_lg, pos_s2_hg, target_s2, RW, 116, RML, 0)
s2_ank = moment_fig((-11.9, 11.8), RW, RML, 0, s2_ank_lg, s2_ank_lg_sd, s2_ank_hg, s2_ank_hg_sd)
left_axis(s2_ank, [-10, -5, 0, 5, 10])
s2_knee = moment_fig((-7.2, 12.6), RW, RML, 0, s2_knee_lg, s2_knee_lg_sd, s2_knee_hg, s2_knee_hg_sd)
left_axis(s2_knee, [-5, 0, 5, 10])
s2_emg = emg_fig(RW, RML, 0, 7, emg_s2_lg, emg_s2_hg)
left_axis(s2_emg, [0, 0.4, 0.8], dec=True)

# legend strip under the lower-right block
leg_fig = new_fig(RW, 34, Range1d(0, 1), Range1d(0, 1), RML, FULL_R, 0, 0)
leg_fig.outline_line_color = None
nan = float("nan")
r_hg = leg_fig.line(x=[nan, nan], y=[nan, nan], line_color=HG_C, line_width=6)
r_lg = leg_fig.line(x=[nan, nan], y=[nan, nan], line_color=LG_C, line_width=6)
r_tg = leg_fig.line(x=[nan, nan], y=[nan, nan], line_color=TG_C, line_width=6)
legend = Legend(items=[LegendItem(label=groups[0], renderers=[r_hg]),
                       LegendItem(label=groups[1], renderers=[r_lg]),
                       LegendItem(label=groups[2], renderers=[r_tg])],
                orientation="horizontal", location="center_right",
                label_text_font=FONT, label_text_font_size="28px", label_text_color=TXT,
                glyph_width=60, glyph_height=24, label_standoff=20, spacing=20,
                padding=0, margin=0, border_line_color=None, background_fill_alpha=0)
leg_fig.add_layout(legend)

lab_pos = ["Position"]
lab_ank = ["Ankle", "Moment"]
lab_knee = ["Knee", "Moment"]
lab_emg = ["EMG"]


def with_label(fig, lines, fh):
    so = [27] if len(lines) == 1 else [0, 0]
    return row(fig, side_label_fig(lines, so, fh))


left = row(strip, column(*left_figs))
right = column(h2_title,
               with_label(h2_pos, lab_pos, 115),
               with_label(h2_ank, lab_ank, 116),
               with_label(h2_knee, lab_knee, 116),
               with_label(h2_emg, lab_emg, 116),
               with_label(s2_pos, lab_pos, 116),
               with_label(s2_ank, lab_ank, 116),
               with_label(s2_knee, lab_knee, 116),
               with_label(s2_emg, lab_emg, 116),
               leg_fig)
layout = row(left, right)

html = file_html(layout, INLINE, title="Position, moments and EMG")
open("out.html", "w").write(html)
